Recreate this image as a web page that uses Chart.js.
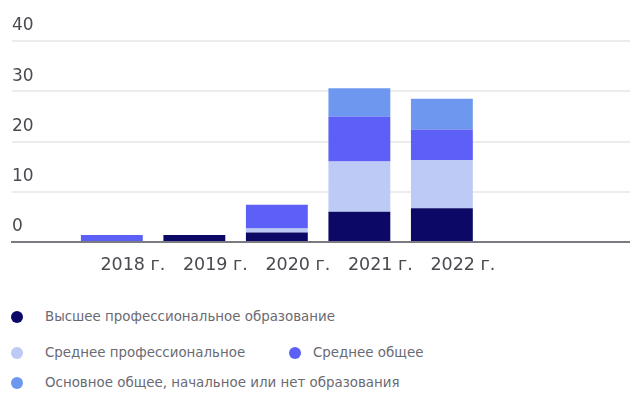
<!DOCTYPE html>
<html>
<head>
<meta charset="utf-8">
<script src="https://cdn.jsdelivr.net/npm/chart.js@4"></script>
<style>
    body { margin: 0; background: #fff; font-family: 'DejaVu Sans', sans-serif; }
    #wrap { position: relative; width: 630px; height: 395px; }
    #chart-box { position: absolute; left: 0; top: 0; width: 630px; height: 293px; }
    .legend-item { position: absolute; display: flex; align-items: center; font-size: 13.4px; color: #6a6a72; white-space: nowrap; }
    .legend-item .dot { width: 12px; height: 12px; border-radius: 50%; }
</style>
</head>
<body>
<div id="wrap">
    <div id="chart-box"><canvas id="eduChart"></canvas></div>
    <div id="legend"></div>
</div>
<script>
const years = ['2018 г.', '2019 г.', '2020 г.', '2021 г.', '2022 г.'];
const seriesNames = [
    'Высшее профессиональное образование',
    'Среднее профессиональное',
    'Среднее общее',
    'Основное общее, начальное или нет образования'
];
const higherProf = [0, 1.4, 1.9, 6, 6.7];
const secondaryProf = [0, 0, 0.8, 10, 9.6];
const secondaryGeneral = [1.4, 0, 4.7, 9, 6.1];
const basicOrNone = [0, 0, 0, 5.6, 6.1];
const yTicks = [0, 10, 20, 30, 40];

const colors = ['#0c0966', '#bccaf5', '#5d60f6', '#6e98ef'];
const seriesValues = [higherProf, secondaryProf, secondaryGeneral, basicOrNone];

const ctx = document.getElementById('eduChart').getContext('2d');
const eduChart = new Chart(ctx, {
    type: 'bar',
    data: {
        datasets: seriesNames.map((name, i) => ({
            label: name,
            data: seriesValues[i].map((v, j) => ({ x: j + 1, y: v })),
            backgroundColor: colors[i],
            borderWidth: 0,
            barPercentage: 0.75,
            categoryPercentage: 1
        }))
    },
    options: {
        responsive: true,
        maintainAspectRatio: false,
        animation: false,
        layout: { padding: { left: 12, right: 0, top: 41, bottom: 4 } },
        plugins: { legend: { display: false }, tooltip: { enabled: false } },
        scales: {
            x: {
                type: 'linear',
                stacked: true,
                offset: false,
                min: -0.21,
                max: 7.28,
                afterBuildTicks: scale => { scale.ticks = years.map((y, i) => ({ value: i + 1 })); },
                grid: { display: false, drawTicks: false },
                border: { display: true, color: '#7a7a80', width: 2 },
                ticks: {
                    padding: 13,
                    labelOffset: 21,
                    color: '#4a4a50',
                    font: { family: 'DejaVu Sans', size: 17.5 },
                    callback: value => years[value - 1] || ''
                }
            },
            y: {
                stacked: true,
                min: 0,
                max: 40,
                afterBuildTicks: scale => { scale.ticks = yTicks.map(v => ({ value: v })); },
                grid: { color: '#ececec', lineWidth: 2, drawTicks: false },
                border: { display: false },
                ticks: {
                    mirror: true,
                    padding: 0,
                    labelOffset: -15,
                    color: '#4a4a50',
                    font: { family: 'DejaVu Sans', size: 17 }
                }
            }
        }
    }
});

// legend laid out in rows like the reference
const legendSpots = [
    { left: 11, top: 309, gap: 22 },
    { left: 11, top: 345, gap: 22 },
    { left: 289, top: 345, gap: 12 },
    { left: 11, top: 375, gap: 22 }
];
const legend = document.getElementById('legend');
seriesNames.forEach((name, i) => {
    const item = document.createElement('div');
    item.className = 'legend-item';
    item.style.left = legendSpots[i].left + 'px';
    item.style.top = legendSpots[i].top + 'px';
    item.innerHTML = `<span class="dot" style="background:${colors[i]};margin-right:${legendSpots[i].gap}px"></span><span>${name}</span>`;
    legend.appendChild(item);
});
</script>
</body>
</html>
